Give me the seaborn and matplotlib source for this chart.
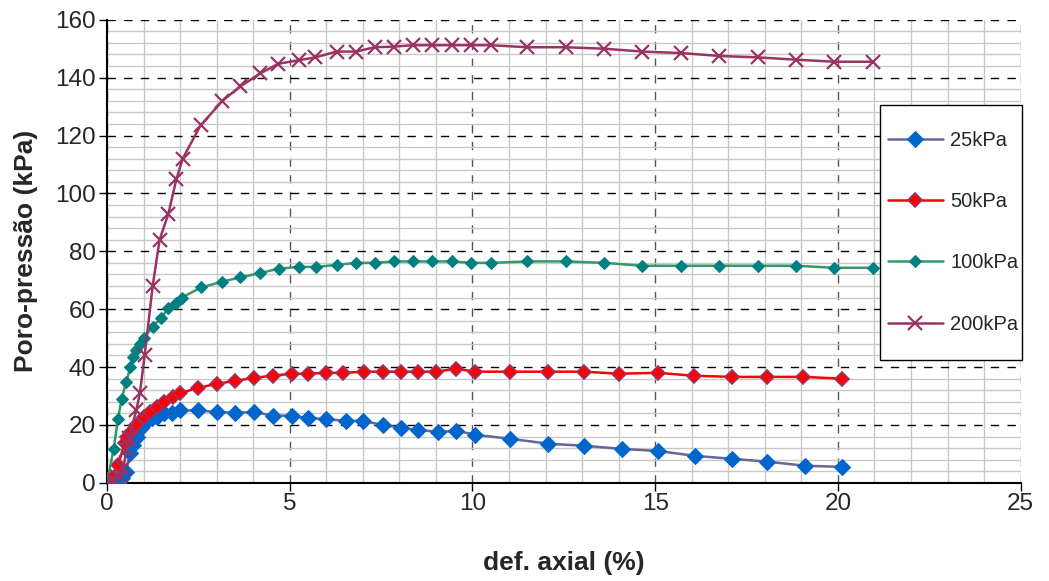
import numpy as np
import pandas as pd
import matplotlib
matplotlib.use("Agg")
import matplotlib.pyplot as plt
from matplotlib.ticker import MultipleLocator
from matplotlib.patches import Rectangle
import seaborn as sns

# ---- data ----
x_25 = [0, 0.12, 0.4, 0.53, 0.62, 0.7, 0.83, 0.94, 1.08, 1.22, 1.38, 1.57, 1.77, 2.0, 2.5, 3.0, 3.5,
        4.03, 4.53, 5.05, 5.5, 6.0, 6.55, 7.0, 7.54, 8.05, 8.5, 9.07, 9.56, 10.07, 11.04, 12.08, 13.06,
        14.1, 15.07, 16.1, 17.1, 18.07, 19.1, 20.1]
y_25 = [0, 1, 1.7, 3.8, 10.4, 13, 16, 19, 21, 22.4, 22.8, 24.2, 24.2, 25, 25, 24.5, 24.2,
        24.5, 23.2, 23.2, 22.4, 22, 21.4, 21.4, 20, 19, 18.3, 17.6, 18, 16.6, 15.2, 13.5, 12.8,
        11.7, 11, 9.3, 8.3, 7.3, 5.9, 5.5]

x_50 = [0, 0.12, 0.31, 0.48, 0.56, 0.67, 0.8, 1.0, 1.19, 1.38, 1.57, 1.8, 2.0, 2.5, 3.0, 3.5,
        4.03, 4.53, 5.05, 5.5, 6.0, 6.47, 7.04, 7.54, 8.05, 8.5, 9.0, 9.56, 10.07, 11.04, 12.08,
        13.06, 14.0, 15.07, 16.05, 17.1, 18.07, 19.05, 20.1]
y_50 = [0, 2, 6.2, 13.8, 16, 17.6, 20, 22.8, 24.5, 26.3, 28, 29.7, 31, 32.8, 34.2, 35.2,
        36.3, 37, 37.7, 37.7, 38, 38, 38.4, 38.4, 38.4, 38.4, 38.4, 39.4, 38.4, 38.4, 38.4,
        38.4, 37.7, 38, 37, 36.6, 36.6, 36.6, 36]

x_100 = [0, 0.18, 0.3, 0.4, 0.53, 0.64, 0.7, 0.8, 0.89, 1.0, 1.25, 1.49, 1.68, 1.9, 2.04, 2.58,
         3.15, 3.65, 4.2, 4.7, 5.24, 5.73, 6.28, 6.82, 7.32, 7.86, 8.36, 8.9, 9.45, 9.97, 10.5,
         11.5, 12.56, 13.6, 14.65, 15.7, 16.75, 17.8, 18.86, 19.9, 20.95]
y_100 = [0, 11.7, 22, 29, 35, 40, 43.5, 46, 48, 50, 54, 57, 60.5, 62, 64, 67.5,
         69.5, 71, 72.5, 74, 74.6, 74.6, 75.3, 76, 76, 76.5, 76.5, 76.5, 76.5, 76, 76,
         76.5, 76.5, 76, 75, 75, 75, 75, 75, 74.3, 74.3]

x_200 = [0, 0.1, 0.2, 0.35, 0.45, 0.53, 0.6, 0.8, 0.9, 1.03, 1.25, 1.44, 1.68, 1.9, 2.07, 2.56,
         3.16, 3.65, 4.2, 4.69, 5.24, 5.7, 6.28, 6.82, 7.32, 7.84, 8.36, 8.9, 9.45, 9.97, 10.5,
         11.5, 12.56, 13.6, 14.65, 15.7, 16.75, 17.8, 18.86, 19.9, 20.95]
y_200 = [0, 0.5, 1, 2, 5, 11.4, 15.5, 25, 31, 44, 68, 84, 93, 105, 112, 123.5,
         132, 137, 141.5, 144.8, 146, 147, 149, 149, 150.5, 150.7, 151.2, 151.2, 151.2, 151.2, 151.2,
         150.5, 150.5, 150, 149, 148.5, 147.5, 147, 146.2, 145.5, 145.5]

labels = ["25kPa", "50kPa", "100kPa", "200kPa"]

# ---- figure ----
sns.set_style("white")
plt.rcParams['font.family'] = ['Liberation Sans', 'DejaVu Sans']

fig = plt.figure(figsize=(10.49, 5.81), dpi=100)
ax = fig.add_axes([0.102, 0.169, 0.871, 0.797])

styles = [
    dict(color="#666699", marker="D", markersize=8, markerfacecolor="#0066CC",
         markeredgecolor="#0066CC", linewidth=1.8),
    dict(color="#FF0000", marker="D", markersize=7.5, markerfacecolor="#FF0000",
         markeredgecolor="#993366", markeredgewidth=1.2, linewidth=1.8),
    dict(color="#339966", marker="D", markersize=6, markerfacecolor="#008080",
         markeredgecolor="#008080", linewidth=1.8),
    dict(color="#993366", marker="x", markersize=10, markeredgewidth=1.6,
         markeredgecolor="#993366", linewidth=1.8),
]

series = [(x_25, y_25), (x_50, y_50), (x_100, y_100), (x_200, y_200)]
for (xs, ys), lab, st in zip(series, labels, styles):
    df = pd.DataFrame({"x": xs, "y": ys})
    sns.lineplot(data=df, x="x", y="y", ax=ax, sort=False, estimator=None,
                 label=lab, zorder=3, **st)

ax.set_xlim(0, 25)
ax.set_ylim(0, 160)
ax.xaxis.set_major_locator(MultipleLocator(5))
ax.xaxis.set_minor_locator(MultipleLocator(1))
ax.yaxis.set_major_locator(MultipleLocator(20))
ax.yaxis.set_minor_locator(MultipleLocator(4))

ax.grid(which="minor", axis="both", color="#C8C8C8", linewidth=1.0, linestyle="-", zorder=0)
ax.grid(which="major", axis="y", color="black", linewidth=1.0, linestyle=(0, (6, 6)), zorder=1)
ax.grid(which="major", axis="x", color="#555555", linewidth=1.0, linestyle=(0, (6, 6)), zorder=1)
ax.set_axisbelow(True)

for s in ["top", "right"]:
    ax.spines[s].set_visible(False)
for s in ["left", "bottom"]:
    ax.spines[s].set_color("black")
    ax.spines[s].set_linewidth(1.5)

ax.tick_params(axis="both", which="major", direction="out", length=6, width=1,
               color="black", labelsize=17.5, left=True, bottom=True)
ax.tick_params(axis="x", which="major", pad=1)
ax.tick_params(axis="y", which="major", pad=2)
ax.tick_params(axis="both", which="minor", length=0)

ax.set_xlabel("def. axial (%)", fontsize=19, fontweight="bold", labelpad=26)
ax.set_ylabel("Poro-pressão (kPa)", fontsize=19, fontweight="bold", labelpad=12)

# legend box (frame drawn separately to match the reference box size)
lx0, ly0, lw, lh = 0.8457, 0.2657, 0.1554, 0.5507
ax.add_patch(Rectangle((lx0, ly0), lw, lh, transform=ax.transAxes, facecolor="white",
                       edgecolor="black", linewidth=1.0, zorder=4, clip_on=False))
leg = ax.legend(loc="center", bbox_to_anchor=(lx0, ly0, lw, lh),
                mode="expand", frameon=False, fontsize=14.5,
                labelspacing=2.1, handlelength=2.75, borderpad=0.4, handletextpad=0.35,
                borderaxespad=0)
leg.set_zorder(5)

fig.savefig("out.png", dpi=100)
